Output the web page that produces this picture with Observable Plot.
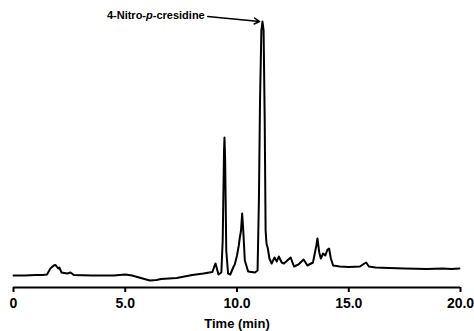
<!DOCTYPE html>
<html>
<head>
<meta charset="utf-8">
<script src="https://cdn.jsdelivr.net/npm/d3@7"></script>
<script src="https://cdn.jsdelivr.net/npm/@observablehq/plot@0.6"></script>
<style>
  html, body { margin: 0; padding: 0; background: #fff; }
  #chart { width: 474px; height: 331px; overflow: hidden; }
</style>
</head>
<body>
<div id="chart"></div>
<script>
// Retention time (min)
const time = [
  0.0, 0.5, 1.0, 1.3, 1.5, 1.65, 1.8, 1.88, 2.0, 2.05, 2.15, 2.4, 2.55, 2.7,
  3.5, 4.5, 5.0, 5.3, 5.7, 6.1, 6.4, 6.6, 7.3, 8.0, 8.5, 8.9,
  9.0, 9.04, 9.1, 9.17, 9.3, 9.36, 9.42, 9.44, 9.47, 9.52, 9.6, 9.7, 9.85, 9.9,
  10.0, 10.08, 10.12, 10.18, 10.23, 10.28, 10.35, 10.5, 10.8, 10.92, 10.98,
  11.03, 11.09, 11.14, 11.19, 11.24, 11.28, 11.32, 11.38, 11.45, 11.55, 11.68,
  11.78, 11.87, 12.0, 12.1, 12.4, 12.55, 12.75, 12.98, 13.15, 13.4, 13.55,
  13.6, 13.68, 13.75, 13.85, 13.95, 14.05, 14.12, 14.2, 14.3, 14.6, 15.0,
  15.5, 15.7, 15.78, 15.9, 16.2, 16.8, 17.5, 18.5, 19.2, 19.6, 19.95
];
// Detector response (arbitrary units)
const signal = [
  12, 12, 12.5, 12.5, 13, 19, 22, 22.5, 19, 20, 15, 14, 15, 12.5,
  12, 12, 13, 12, 9.5, 7, 7.5, 8.5, 9.5, 12.5, 14, 15.5,
  22, 24, 19, 13, 15, 47, 137, 150, 127, 37, 14, 13, 21, 23,
  32, 42, 49, 57, 74, 57, 27, 16, 15, 17, 87,
  187, 257, 266, 257, 167, 57, 44, 39, 29, 24, 30,
  26, 31, 25, 24, 30, 21, 23, 28, 22, 25, 42,
  49, 35, 29, 34, 32, 38, 39, 29, 22, 21, 20.5,
  21, 24, 25, 21, 20, 19.5, 19, 18.5, 19, 18.5, 19
];
const xTicks = [0, 5, 10, 15, 20];
const xTickLabels = ["0", "5.0", "10.0", "15.0", "20.0"];
const xLabel = "Time (min)";
const peakName = "4-Nitro-p-cresidine";

const data = time.map((t, i) => ({time: t, signal: signal[i]}));
const peak = data.reduce((a, b) => (b.signal > a.signal ? b : a));
const annotation = [{
  label: peakName,
  x1: peak.time - 2.45, y1: peak.signal + 5,
  x2: peak.time - 0.13, y2: peak.signal
}];

const chart = Plot.plot({
  width: 474,
  height: 331,
  marginLeft: 13,
  marginRight: 14,
  marginTop: 0,
  marginBottom: 44,
  style: {fontFamily: "'Liberation Sans', Arial, Helvetica, sans-serif", background: "#fff", color: "#000"},
  x: {domain: [0, 20]},
  y: {domain: [0, 287], axis: null},
  marks: [
    Plot.ruleY([0], {stroke: "#000", strokeWidth: 2.2}),
    Plot.axisX({
      ticks: xTicks,
      tickFormat: (d) => xTickLabels[xTicks.indexOf(d)],
      tickSize: 5,
      tickPadding: 6,
      strokeWidth: 2,
      fontSize: 14,
      fontWeight: "bold",
      label: xLabel,
      labelAnchor: "center",
      labelArrow: "none",
      labelOffset: 40
    }),
    Plot.line(data, {x: "time", y: "signal", stroke: "#000", strokeWidth: 2, strokeLinejoin: "round"}),
    Plot.arrow(annotation, {x1: "x1", y1: "y1", x2: "x2", y2: "y2", stroke: "#000", strokeWidth: 1.5, headLength: 6, bend: false}),
    Plot.text(annotation, {x: "x1", y: "y1", text: "label", textAnchor: "end", dx: -3, dy: -1, fontSize: 11, fontWeight: "bold", fill: "#000"})
  ]
});

// style the axis label and italicize the "p" in the compound name
d3.select(chart).selectAll("text").each(function () {
  const el = d3.select(this);
  if (el.text() === xLabel) {
    el.attr("font-size", 13).attr("font-weight", "bold");
  }
  if (el.text() === peakName) {
    const parts = peakName.split("-p-");
    el.text("");
    el.append("tspan").text(parts[0] + "-");
    el.append("tspan").attr("font-style", "italic").text("p");
    el.append("tspan").text("-" + parts[1]);
  }
});

document.getElementById("chart").appendChild(chart);
</script>
</body>
</html>
